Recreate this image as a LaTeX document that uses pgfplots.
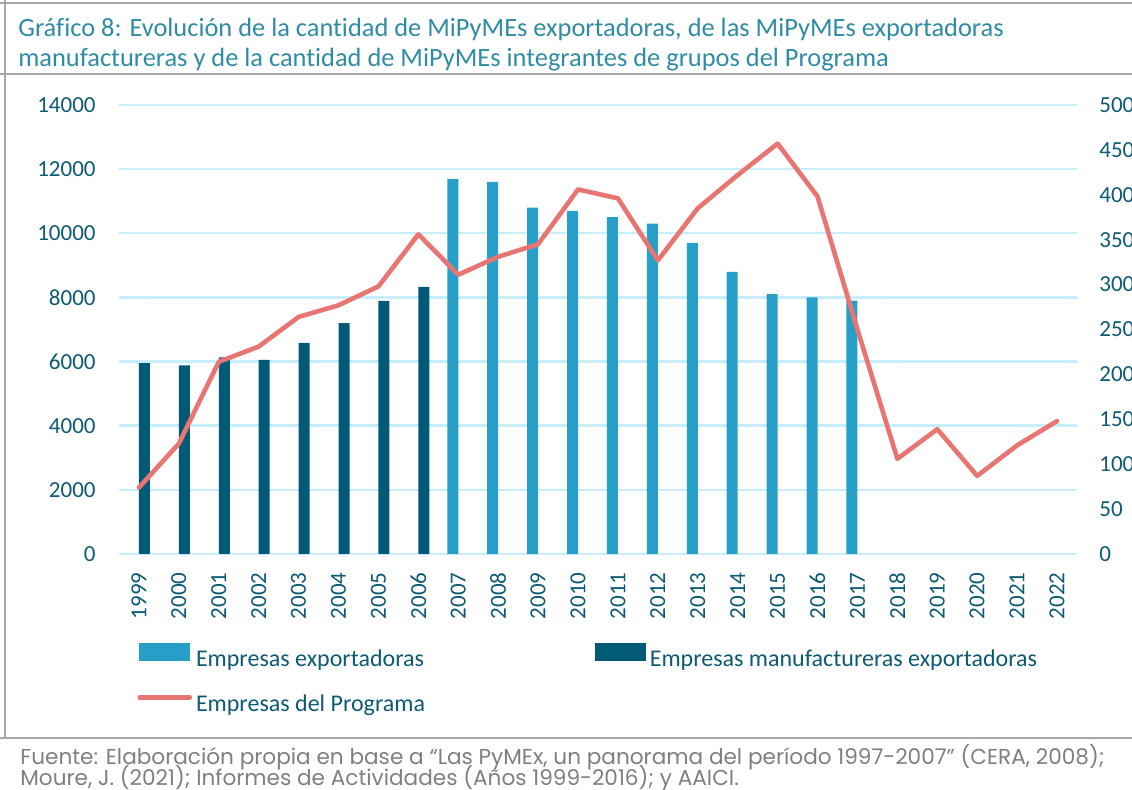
\documentclass[border=0pt]{standalone}
\usepackage{fontspec}
\setmainfont{Carlito}[Ligatures=NoCommon]
\newfontfamily\footfont{Poppins}
\usepackage{pgfplots}
\pgfplotsset{compat=1.18}
\definecolor{lightbar}{HTML}{27A0C9}
\definecolor{darkbar}{HTML}{035A77}
\definecolor{linec}{HTML}{E87572}
\definecolor{gridc}{HTML}{C8EEFB}
\definecolor{tickc}{HTML}{0C5A73}
\definecolor{titlec}{HTML}{2F8CA4}
\definecolor{framec}{HTML}{A6A6A6}
\definecolor{footc}{HTML}{7F7F7F}
\begin{document}
\begin{tikzpicture}
\useasboundingbox (0,0) rectangle (566pt,395pt);
\clip (0,0) rectangle (566pt,395pt);
% frame
\draw[framec, line width=1pt] (0,393.5pt) -- (566pt,393.5pt);
\draw[framec, line width=1pt] (0,358pt) -- (566pt,358pt);
\draw[framec, line width=1pt] (2.5pt,395pt) -- (2.5pt,26pt);
\draw[framec, line width=1pt] (0,26pt) -- (566pt,26pt);
% title
\node[anchor=base west, text=titlec, font=\fontsize{13.2}{15}\selectfont, inner sep=0pt] at (9pt,376.5pt) {Gráfico 8: Evolución de la cantidad de MiPyMEs exportadoras, de las MiPyMEs exportadoras};
\node[anchor=base west, text=titlec, font=\fontsize{13.2}{15}\selectfont, inner sep=0pt] at (9pt,361.5pt) {manufactureras y de la cantidad de MiPyMEs integrantes de grupos del Programa};
% footer
\node[anchor=base west, text=footc, font=\footfont\fontsize{10.8}{12}\selectfont, inner sep=0pt] at (10pt,12.5pt) {Fuente: Elaboración propia en base a “Las PyMEx, un panorama del período 1997-2007” (CERA, 2008);};
\node[anchor=base west, text=footc, font=\footfont\fontsize{10.8}{12}\selectfont, inner sep=0pt] at (10pt,2.3pt) {Moure, J. (2021); Informes de Actividades (Años 1999-2016); y AAICI.};

\begin{axis}[
  at={(59.5pt,118pt)}, anchor=south west, scale only axis,
  width=479pt, height=224.5pt,
  xmin=1998.5, xmax=2022.5, ymin=0, ymax=14000,
  ytick={0,2000,...,14000}, xtick={1999,...,2022},
  scaled y ticks=false,
  ymajorgrids, grid style={gridc, line width=1.2pt},
  axis line style={draw=none}, major tick length=0pt,
  tick label style={text=tickc, font=\fontsize{11.5}{13}\selectfont, inner sep=0pt},
  /pgf/number format/1000 sep={}, /pgf/number format/assume math mode=true,
  xticklabel style={rotate=90, anchor=east},
  xticklabel shift=9pt, yticklabel shift=11.5pt,
  ybar=0pt, bar width=5.5pt,
]
\addplot[fill=lightbar, draw=none] coordinates {
(2007,11700) (2008,11600) (2009,10800) (2010,10700) (2011,10500) (2012,10300)
(2013,9700) (2014,8800) (2015,8100) (2016,8000) (2017,7900)};
\addplot[fill=darkbar, draw=none] coordinates {
(1999,5950) (2000,5880) (2001,6130) (2002,6050) (2003,6580) (2004,7200) (2005,7890) (2006,8330)};
\end{axis}

\begin{axis}[
  at={(59.5pt,118pt)}, anchor=south west, scale only axis,
  width=479pt, height=224.5pt,
  xmin=1998.5, xmax=2022.5, ymin=0, ymax=500,
  ytick={0,50,...,500},
  axis y line*=right, axis x line=none,
  axis line style={draw=none}, major tick length=0pt,
  tick label style={text=tickc, font=\fontsize{11.5}{13}\selectfont, inner sep=0pt},
  /pgf/number format/1000 sep={}, /pgf/number format/assume math mode=true,
  yticklabel shift=11pt,
  legend columns=2, legend cell align=left,
  legend style={draw=none, fill=none, inner sep=0pt,
    at={(0.0188,-0.197)}, anchor=north west,
    font=\fontsize{12}{14}\selectfont, text=tickc,
    nodes={inner sep=0pt}, row sep=13pt,
    /tikz/every odd column/.append style={column sep=2pt}},
]
\addlegendimage{legend image code/.code={\fill[lightbar] (0pt,-0.5pt) rectangle (25pt,8pt);}}
\addlegendentry{\makebox[199.5pt][l]{Empresas exportadoras}}
\addlegendimage{legend image code/.code={\fill[darkbar] (0pt,-0.5pt) rectangle (25pt,8pt);}}
\addlegendentry{Empresas manufactureras exportadoras}
\addplot[linec, line width=2.3pt, line join=round, line cap=round,
  legend image code/.code={\draw[linec, line width=2.3pt, line cap=round] (0pt,3.7pt) -- (25pt,3.7pt);}]
coordinates {
(1999,74) (2000,123) (2001,214) (2002,231) (2003,264) (2004,277) (2005,298) (2006,356)
(2007,311) (2008,331) (2009,345) (2010,406) (2011,396) (2012,327) (2013,385) (2014,422)
(2015,457) (2016,398) (2017,250) (2018,106) (2019,139) (2020,87) (2021,121) (2022,148)};
\addlegendentry{Empresas del Programa}
\end{axis}
\end{tikzpicture}
\end{document}
